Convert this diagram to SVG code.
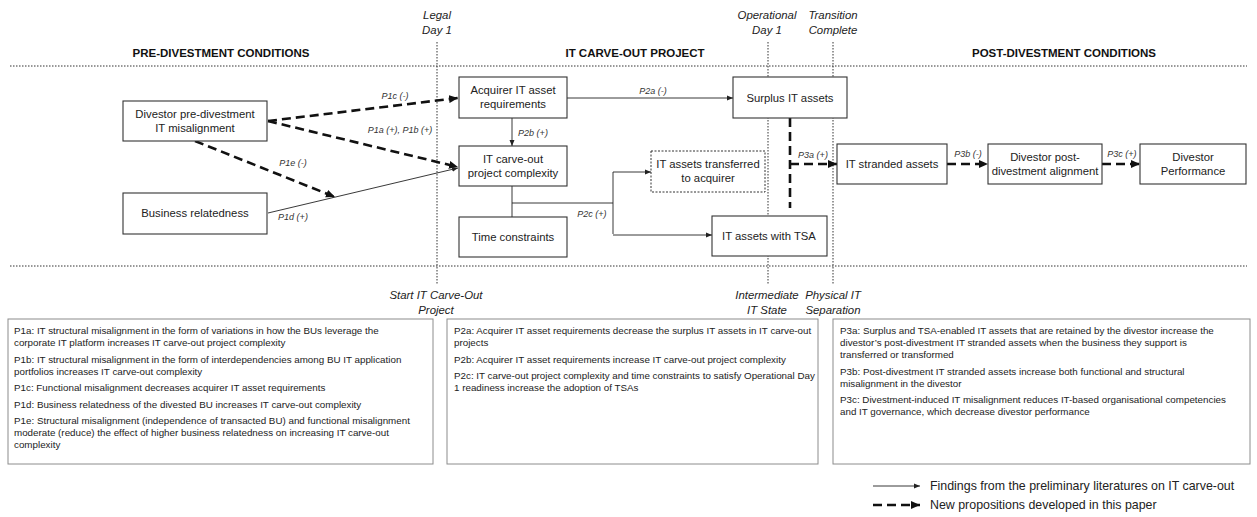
<svg xmlns="http://www.w3.org/2000/svg" width="1257" height="517" viewBox="0 0 1257 517">
<defs>
<style>
.bg{fill:#ffffff}
.box{fill:#ffffff;stroke:#333;stroke-width:1.1}
.dbox{fill:#ffffff;stroke:#333;stroke-width:1;stroke-dasharray:2 1.5}
.tbox{fill:#ffffff;stroke:#8c8c8c;stroke-width:1}
.nt{font-family:"Liberation Sans",Arial,sans-serif;font-size:11.3px;fill:#222;text-anchor:middle}
.hd{font-family:"Liberation Sans",Arial,sans-serif;font-size:11.5px;font-weight:bold;fill:#111;text-anchor:middle}
.ms{font-family:"Liberation Sans",Arial,sans-serif;font-size:11.4px;font-style:italic;fill:#222;text-anchor:middle}
.lb{font-family:"Liberation Sans",Arial,sans-serif;font-size:9px;font-style:italic;fill:#333;text-anchor:middle}
.pt{font-family:"Liberation Sans",Arial,sans-serif;font-size:9.8px;fill:#222}
.lg{font-family:"Liberation Sans",Arial,sans-serif;font-size:12.4px;fill:#222}
.dot{stroke:#333;stroke-width:1;stroke-dasharray:1.5 1.5;fill:none}
.thin{stroke:#222;stroke-width:0.9;fill:none;marker-end:url(#aThin)}
.plain{stroke:#222;stroke-width:0.9;fill:none}
.dash{stroke:#111;stroke-width:2.6;stroke-dasharray:9 5;fill:none}
.dashA{stroke:#111;stroke-width:2.6;stroke-dasharray:9 5;fill:none;marker-end:url(#aThick)}
</style>
<marker id="aThin" markerUnits="userSpaceOnUse" markerWidth="7" markerHeight="6" refX="6" refY="3" orient="auto"><path d="M0,0.5 L6,3 L0,5.5 z" fill="#222"/></marker>
<marker id="aThick" markerUnits="userSpaceOnUse" markerWidth="10" markerHeight="9" refX="9" refY="4.5" orient="auto"><path d="M0,0.5 L9,4.5 L0,8.5 z" fill="#111"/></marker>
</defs>
<rect class="bg" x="0" y="0" width="1257" height="517"/>

<g id="frame">
<text class="hd" x="221" y="57">PRE-DIVESTMENT CONDITIONS</text>
<text class="hd" x="635" y="57">IT CARVE-OUT PROJECT</text>
<text class="hd" x="1064" y="57">POST-DIVESTMENT CONDITIONS</text>
<line class="dot" x1="10" y1="66" x2="1247" y2="66"/>
<line class="dot" x1="10" y1="266" x2="1247" y2="266"/>
<line class="dot" x1="437" y1="42" x2="437" y2="285"/>
<line class="dot" x1="768" y1="42" x2="768" y2="285"/>
<line class="dot" x1="833" y1="42" x2="833" y2="285"/>
<text class="ms" x="437" y="19">Legal</text>
<text class="ms" x="437" y="34">Day 1</text>
<text class="ms" x="767" y="19">Operational</text>
<text class="ms" x="767" y="34">Day 1</text>
<text class="ms" x="833" y="19">Transition</text>
<text class="ms" x="833" y="34">Complete</text>
<text class="ms" x="436" y="299">Start IT Carve-Out</text>
<text class="ms" x="436" y="314">Project</text>
<text class="ms" x="767" y="299">Intermediate</text>
<text class="ms" x="767" y="314">IT State</text>
<text class="ms" x="833" y="299">Physical IT</text>
<text class="ms" x="833" y="314">Separation</text>
</g>

<g id="connectors">
<path class="dashA" d="M268,121 L458,98"/>
<path class="dashA" d="M268,121 L458,167"/>
<path class="dashA" d="M195,141 L335,197"/>
<path class="thin" d="M268,213 L458,168"/>
<path class="thin" d="M512,118 L512,146"/>
<path class="thin" d="M567,98 L733,98"/>
<path class="plain" d="M512,186 L512,217 M512,203 L613,203 M613,172 L613,234"/>
<path class="thin" d="M613,172 L651,172"/>
<path class="thin" d="M613,235 L712,235"/>
<path class="dash" d="M790,118 L790,208"/>
<path class="dashA" d="M790,164 L837,164"/>
<path class="dashA" d="M947,164 L988,164"/>
<path class="dashA" d="M1102,164 L1140,164"/>
<text class="lb" x="395" y="99">P1c (-)</text>
<text class="lb" x="400" y="133">P1a (+), P1b (+)</text>
<text class="lb" x="293" y="166">P1e (-)</text>
<text class="lb" x="293" y="220">P1d (+)</text>
<text class="lb" x="653" y="94">P2a (-)</text>
<text class="lb" x="533" y="136">P2b (+)</text>
<text class="lb" x="592" y="217">P2c (+)</text>
<text class="lb" x="813" y="158">P3a (+)</text>
<text class="lb" x="968" y="157">P3b (-)</text>
<text class="lb" x="1122" y="157">P3c (+)</text>
</g>

<g id="n-divestor-misalignment">
<rect class="box" x="123" y="101" width="144" height="40"/>
<text class="nt" x="195" y="118">Divestor pre-divestment</text>
<text class="nt" x="195" y="132">IT misalignment</text>
</g>
<g id="n-business-relatedness">
<rect class="box" x="123" y="193" width="144" height="41"/>
<text class="nt" x="195" y="217">Business relatedness</text>
</g>
<g id="n-acquirer-requirements">
<rect class="box" x="459" y="77" width="108" height="41"/>
<text class="nt" x="513" y="94">Acquirer IT asset</text>
<text class="nt" x="513" y="108">requirements</text>
</g>
<g id="n-complexity">
<rect class="box" x="459" y="146" width="108" height="40"/>
<text class="nt" x="513" y="163">IT carve-out</text>
<text class="nt" x="513" y="177">project complexity</text>
</g>
<g id="n-time-constraints">
<rect class="box" x="459" y="217" width="108" height="40"/>
<text class="nt" x="513" y="241">Time constraints</text>
</g>
<g id="n-transferred">
<rect class="dbox" x="651" y="151" width="114" height="41"/>
<text class="nt" x="708" y="168">IT assets transferred</text>
<text class="nt" x="708" y="182">to acquirer</text>
</g>
<g id="n-surplus">
<rect class="box" x="733" y="77" width="114" height="41"/>
<text class="nt" x="790" y="102">Surplus IT assets</text>
</g>
<g id="n-tsa">
<rect class="box" x="712" y="216" width="115" height="40"/>
<text class="nt" x="769" y="240">IT assets with TSA</text>
</g>
<g id="n-stranded">
<rect class="box" x="837" y="144" width="110" height="40"/>
<text class="nt" x="892" y="168">IT stranded assets</text>
</g>
<g id="n-post-alignment">
<rect class="box" x="988" y="144" width="114" height="40"/>
<text class="nt" x="1045" y="161">Divestor post-</text>
<text class="nt" x="1045" y="175">divestment alignment</text>
</g>
<g id="n-performance">
<rect class="box" x="1140" y="144" width="106" height="40"/>
<text class="nt" x="1193" y="161">Divestor</text>
<text class="nt" x="1193" y="175">Performance</text>
</g>

<g id="p1-box">
<rect class="tbox" x="8" y="319" width="425" height="145"/>
<text class="pt" x="14" y="334">P1a: IT structural misalignment in the form of variations in how the BUs leverage the</text>
<text class="pt" x="14" y="346">corporate IT platform increases IT carve-out project complexity</text>
<text class="pt" x="14" y="362.5">P1b: IT structural misalignment in the form of interdependencies among BU IT application</text>
<text class="pt" x="14" y="374.5">portfolios increases IT carve-out complexity</text>
<text class="pt" x="14" y="391">P1c: Functional misalignment decreases acquirer IT asset requirements</text>
<text class="pt" x="14" y="407.5">P1d: Business relatedness of the divested BU increases IT carve-out complexity</text>
<text class="pt" x="14" y="424">P1e: Structural misalignment (independence of transacted BU) and functional misalignment</text>
<text class="pt" x="14" y="436">moderate (reduce) the effect of higher business relatedness on increasing IT carve-out</text>
<text class="pt" x="14" y="448">complexity</text>
</g>
<g id="p2-box">
<rect class="tbox" x="447" y="319" width="371" height="145"/>
<text class="pt" x="454" y="334">P2a: Acquirer IT asset requirements decrease the surplus IT assets in IT carve-out</text>
<text class="pt" x="454" y="346">projects</text>
<text class="pt" x="454" y="362.5">P2b: Acquirer IT asset requirements increase IT carve-out project complexity</text>
<text class="pt" x="454" y="379">P2c: IT carve-out project complexity and time constraints to satisfy Operational Day</text>
<text class="pt" x="454" y="391">1 readiness increase the adoption of TSAs</text>
</g>
<g id="p3-box">
<rect class="tbox" x="833" y="319" width="417" height="145"/>
<text class="pt" x="840" y="334">P3a: Surplus and TSA-enabled IT assets that are retained by the divestor increase the</text>
<text class="pt" x="840" y="346">divestor’s post-divestment IT stranded assets when the business they support is</text>
<text class="pt" x="840" y="358">transferred or transformed</text>
<text class="pt" x="840" y="374.5">P3b: Post-divestment IT stranded assets increase both functional and structural</text>
<text class="pt" x="840" y="386.5">misalignment in the divestor</text>
<text class="pt" x="840" y="403">P3c: Divestment-induced IT misalignment reduces IT-based organisational competencies</text>
<text class="pt" x="840" y="415">and IT governance, which decrease divestor performance</text>
</g>

<g id="legend">
<path class="thin" d="M873,486 L920,486"/>
<text class="lg" x="930" y="490">Findings from the preliminary literatures on IT carve-out</text>
<path class="dashA" d="M873,505 L920,505"/>
<text class="lg" x="930" y="509">New propositions developed in this paper</text>
</g>
</svg>
